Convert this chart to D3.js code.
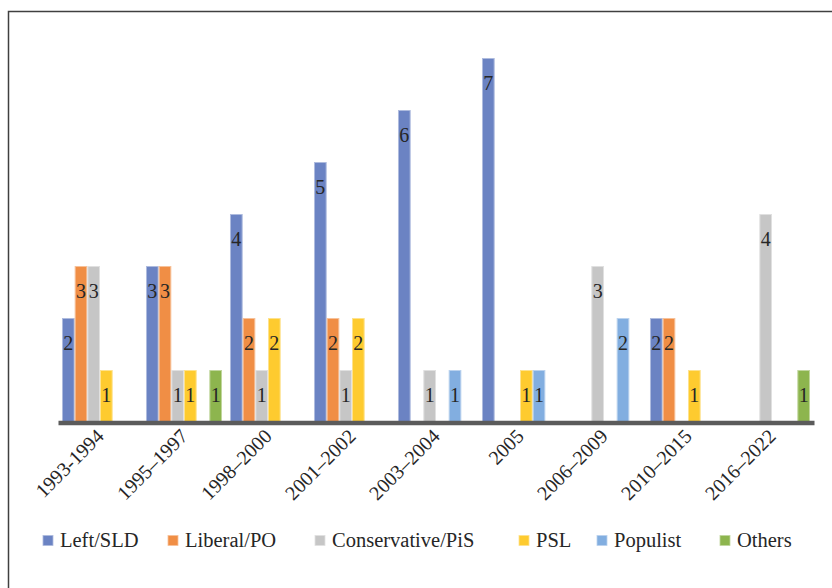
<!DOCTYPE html>
<html>
<head>
<meta charset="utf-8">
<script src="https://cdn.jsdelivr.net/npm/d3@7/dist/d3.min.js"></script>
<style>
  html, body { margin: 0; padding: 0; background: #fff; }
  svg { display: block; }
</style>
</head>
<body>
<svg id="chart" width="832" height="588"></svg>
<script>
// Periods on the x axis
const periods = ["1993-1994", "1995–1997", "1998–2000", "2001–2002", "2003–2004",
                 "2005", "2006–2009", "2010–2015", "2016–2022"];

// Party groupings (legend order)
const parties = ["Left/SLD", "Liberal/PO", "Conservative/PiS", "PSL", "Populist", "Others"];

// Counts per party, one value per period
const leftSLD      = [2, 3, 4, 5, 6, 7, 0, 2, 0];
const liberalPO    = [3, 3, 2, 2, 0, 0, 0, 2, 0];
const conservative = [3, 1, 1, 1, 1, 0, 3, 0, 4];
const psl          = [1, 1, 2, 2, 0, 1, 0, 1, 0];
const populist     = [0, 0, 0, 0, 1, 1, 2, 0, 0];
const others       = [0, 1, 0, 0, 0, 0, 0, 0, 1];

const colors = ["#6B83C3", "#F08E45", "#C6C6C6", "#FECB2F", "#82AEE0", "#8DB54E"];

const FONT = '"Liberation Serif"';
const INK = "#262626";

const seriesValues = [leftSLD, liberalPO, conservative, psl, populist, others];
const rows = periods.map((p, i) => ({
  period: p,
  values: parties.map((name, k) => ({ name, k, v: seriesValues[k][i] }))
}));

const svg = d3.select("#chart");

// outer frame
svg.append("rect")
  .attr("x", 8.5).attr("y", 11.5)
  .attr("width", 900).attr("height", 700)
  .attr("fill", "none").attr("stroke", "#404040").attr("stroke-width", 1.5);

const plot = { left: 58, right: 814, top: 6.5, bottom: 422.5 };

const x0 = d3.scaleBand()
  .domain(periods)
  .range([plot.left, plot.right])
  .paddingInner(0.095)
  .paddingOuter(0.0475);

const x1 = d3.scaleBand()
  .domain(parties)
  .range([0, x0.bandwidth()]);

const y = d3.scaleLinear()
  .domain([0, 8])
  .range([plot.bottom, plot.top]);

const color = d3.scaleOrdinal().domain(parties).range(colors);
const edge = name => d3.interpolateRgb(color(name), "#ffffff")(0.45);

const groups = svg.append("g").selectAll("g")
  .data(rows)
  .join("g")
  .attr("transform", d => `translate(${x0(d.period)},0)`);

groups.selectAll("rect")
  .data(d => d.values.filter(e => e.v > 0))
  .join("rect")
  .attr("x", d => x1(d.name) + 0.5)
  .attr("y", d => y(d.v))
  .attr("width", x1.bandwidth() - 1)
  .attr("height", d => y(0) - y(d.v))
  .attr("fill", d => color(d.name))
  .attr("stroke", d => edge(d.name))
  .attr("stroke-width", 1);

// value labels inside the top of each bar
groups.selectAll("text")
  .data(d => d.values.filter(e => e.v > 0))
  .join("text")
  .attr("x", d => x1(d.name) + x1.bandwidth() / 2)
  .attr("y", d => y(d.v) + 31.5)
  .attr("text-anchor", "middle")
  .style("font-family", FONT)
  .style("font-size", "20px")
  .style("fill", INK)
  .text(d => d.v);

// x axis baseline and rotated period labels
const xAxis = d3.axisBottom(x0).tickSize(0).tickPadding(0);
const axisG = svg.append("g")
  .attr("transform", `translate(0,${plot.bottom})`)
  .attr("font-family", null)
  .attr("font-size", null)
  .call(xAxis);
axisG.attr("font-family", null).attr("font-size", null);
axisG.select(".domain")
  .attr("stroke", "#5B5B5B")
  .attr("stroke-width", 4.5);
axisG.selectAll(".tick text")
  .style("font-family", FONT)
  .style("font-size", "20px")
  .style("fill", INK)
  .attr("text-anchor", "end")
  .attr("dy", 0)
  .attr("y", 0)
  .attr("transform", "translate(5,15) rotate(-45)");

// legend
const legendX = [43, 168, 315, 519, 597, 720];
const legend = svg.append("g").selectAll("g")
  .data(parties)
  .join("g")
  .attr("transform", (d, i) => `translate(${legendX[i]},535.5)`);
legend.append("rect")
  .attr("width", 10).attr("height", 10)
  .attr("fill", d => color(d))
  .attr("stroke", d => edge(d)).attr("stroke-width", 0.8);
legend.append("text")
  .attr("x", 17).attr("y", 11.5)
  .style("font-family", FONT)
  .style("font-size", "20.5px")
  .style("fill", INK)
  .text(d => d);
</script>
</body>
</html>
